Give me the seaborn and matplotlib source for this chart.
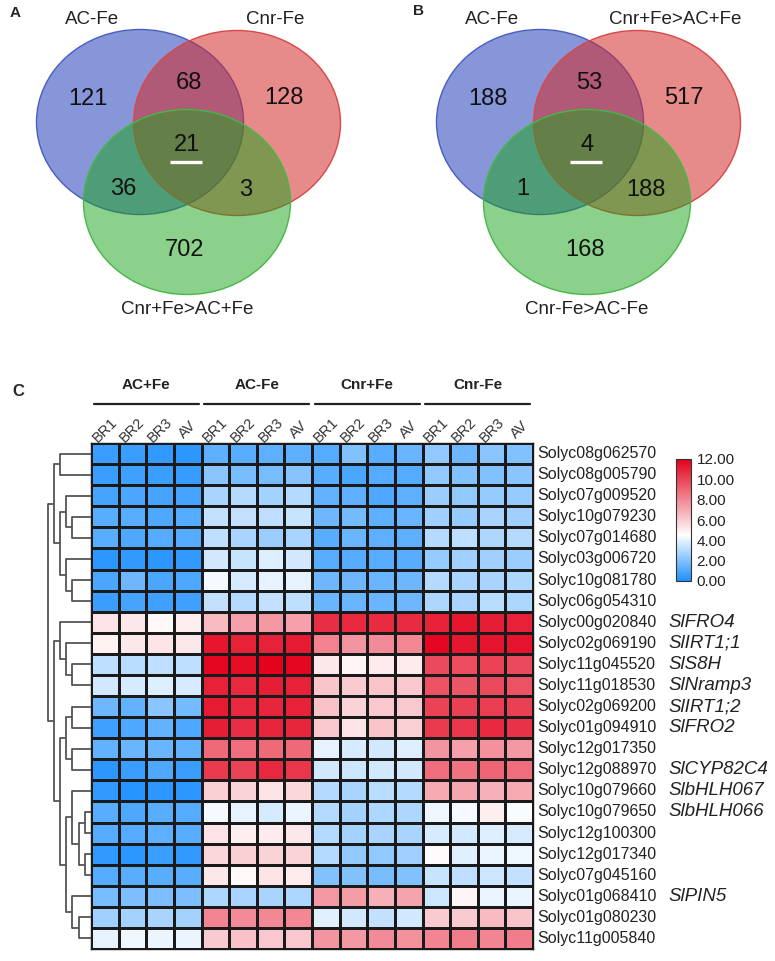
"""
Venn diagrams of Fe-responsive genes (A, B) and expression heatmap (C).
"""

import matplotlib
matplotlib.use("Agg")
import matplotlib.pyplot as plt
from matplotlib.patches import Ellipse
from matplotlib.colors import LinearSegmentedColormap
import numpy as np
import pandas as pd
import seaborn as sns

# ---------------------------------------------------------------- data
# region order: only1, only2, only3, 1&2, 1&3, 2&3, 1&2&3
venn_a_sets = ["AC-Fe", "Cnr-Fe", "Cnr+Fe>AC+Fe"]
venn_a_counts = [121, 128, 702, 68, 36, 3, 21]
venn_b_sets = ["AC-Fe", "Cnr+Fe>AC+Fe", "Cnr-Fe>AC-Fe"]
venn_b_counts = [188, 517, 168, 53, 1, 188, 4]

groups = ["AC+Fe", "AC-Fe", "Cnr+Fe", "Cnr-Fe"]
replicates = ["BR1", "BR2", "BR3", "AV"]

genes = [
    "Solyc08g062570", "Solyc08g005790", "Solyc07g009520", "Solyc10g079230",
    "Solyc07g014680", "Solyc03g006720", "Solyc10g081780", "Solyc06g054310",
    "Solyc00g020840", "Solyc02g069190", "Solyc11g045520", "Solyc11g018530",
    "Solyc02g069200", "Solyc01g094910", "Solyc12g017350", "Solyc12g088970",
    "Solyc10g079660", "Solyc10g079650", "Solyc12g100300", "Solyc12g017340",
    "Solyc07g045160", "Solyc01g068410", "Solyc01g080230", "Solyc11g005840",
]
gene_names = [
    "", "", "", "", "", "", "", "",
    "SlFRO4", "SlIRT1;1", "SlS8H", "SlNramp3",
    "SlIRT1;2", "SlFRO2", "", "SlCYP82C4",
    "SlbHLH067", "SlbHLH066", "", "",
    "", "SlPIN5", "", "",
]

# columns: AC+Fe (BR1 BR2 BR3 AV), AC-Fe (...), Cnr+Fe (...), Cnr-Fe (...)
expression = [
    [0.6, 0.6, 0.4, 0.3, 1.3, 1.2, 1.3, 1.3, 1.1, 2.0, 1.2, 1.5, 2.3, 1.6, 2.2, 2.0],
    [0.6, 0.7, 0.6, 0.5, 2.2, 1.8, 1.8, 2.1, 1.2, 0.9, 1.1, 1.1, 2.3, 2.0, 2.0, 2.2],
    [0.8, 0.9, 0.8, 0.8, 2.8, 3.0, 2.7, 3.0, 1.4, 1.3, 1.0, 1.3, 2.5, 2.3, 2.4, 2.4],
    [1.2, 1.2, 1.0, 1.1, 3.3, 3.3, 3.2, 3.4, 1.6, 1.7, 1.3, 1.5, 2.6, 2.4, 2.8, 2.6],
    [1.2, 1.0, 1.1, 1.1, 3.2, 2.8, 2.5, 2.8, 1.2, 1.5, 1.3, 1.3, 3.0, 3.2, 2.9, 3.0],
    [0.3, 0.4, 0.3, 0.4, 3.6, 3.4, 3.8, 3.6, 1.2, 1.1, 1.2, 1.2, 2.4, 2.6, 2.6, 2.5],
    [0.9, 1.6, 0.9, 1.0, 4.3, 3.7, 4.0, 4.0, 1.6, 1.6, 1.5, 1.6, 3.0, 2.8, 2.8, 2.9],
    [0.6, 0.8, 0.7, 0.7, 3.3, 3.0, 3.3, 3.2, 1.5, 1.5, 1.5, 1.6, 2.9, 2.8, 3.1, 2.9],
    [5.3, 5.2, 4.7, 5.0, 6.5, 7.3, 7.5, 7.3, 10.6, 10.8, 10.7, 10.7, 11.0, 11.3, 11.1, 11.0],
    [4.9, 5.2, 5.3, 5.2, 11.3, 11.0, 11.0, 11.2, 8.2, 7.6, 7.9, 8.0, 11.8, 11.3, 11.4, 11.4],
    [3.2, 3.1, 3.2, 3.2, 11.8, 11.6, 11.9, 11.8, 5.2, 4.8, 5.1, 5.1, 9.8, 9.7, 10.0, 9.8],
    [3.6, 3.7, 3.8, 3.7, 11.0, 10.8, 11.1, 11.0, 6.2, 6.0, 6.2, 6.1, 9.6, 9.5, 9.8, 9.6],
    [1.6, 1.4, 2.2, 1.7, 11.2, 10.8, 10.9, 11.0, 6.3, 5.8, 6.1, 6.1, 10.0, 10.1, 10.2, 10.1],
    [0.7, 1.0, 1.4, 1.0, 11.1, 10.6, 10.9, 10.9, 6.1, 5.3, 6.2, 5.9, 10.3, 10.4, 10.8, 10.5],
    [1.4, 1.5, 1.5, 1.4, 8.9, 8.8, 8.9, 8.9, 4.0, 3.7, 3.6, 3.8, 7.6, 7.3, 7.7, 7.5],
    [0.3, 0.6, 1.0, 0.6, 10.3, 10.0, 10.8, 10.4, 3.6, 3.5, 3.6, 3.6, 8.8, 8.6, 9.0, 8.8],
    [0.4, 0.2, 0.3, 0.3, 5.9, 5.8, 5.3, 5.7, 3.0, 2.8, 3.1, 3.0, 7.0, 7.1, 6.8, 7.0],
    [1.2, 1.0, 1.2, 1.1, 4.3, 4.0, 3.7, 4.1, 3.0, 2.7, 2.9, 2.9, 4.2, 4.3, 5.0, 4.4],
    [1.1, 1.1, 1.3, 1.2, 5.3, 5.0, 5.1, 5.2, 3.0, 2.7, 2.8, 2.8, 3.7, 3.6, 3.8, 3.7],
    [0.4, 0.3, 0.6, 0.4, 5.7, 5.9, 5.8, 5.8, 3.0, 2.3, 2.3, 2.6, 4.6, 3.9, 4.1, 4.2],
    [1.1, 1.2, 1.2, 1.2, 5.2, 4.7, 5.3, 5.1, 2.0, 2.0, 1.8, 2.0, 3.4, 3.2, 3.5, 3.3],
    [1.8, 1.9, 1.9, 1.9, 2.9, 2.8, 2.8, 2.9, 7.5, 7.4, 6.8, 7.2, 3.5, 4.8, 4.1, 4.1],
    [2.6, 2.7, 2.8, 2.7, 8.1, 7.9, 8.0, 8.0, 3.9, 3.6, 3.3, 3.6, 6.0, 6.0, 6.5, 6.2],
    [4.0, 4.2, 4.1, 4.1, 6.0, 6.3, 6.1, 6.1, 7.6, 7.5, 7.9, 7.7, 8.1, 8.3, 8.1, 8.3],
]

# row dendrogram: (left, right, level); ids >= 24 refer to earlier merges
merges = [
    (3, 4, 3), (2, 24, 4), (6, 7, 3), (5, 26, 4), (25, 27, 5), (0, 1, 5),
    (29, 28, 6), (10, 11, 3), (9, 31, 4), (8, 32, 5), (12, 13, 3), (14, 15, 3),
    (34, 35, 4), (17, 18, 1), (19, 20, 1), (37, 38, 2), (16, 39, 3), (22, 23, 2),
    (21, 41, 3), (40, 42, 4), (36, 43, 5), (33, 44, 6), (30, 45, 7),
]

# ---------------------------------------------------------------- style
sns.set_theme(style="white")
plt.rcParams["font.family"] = ["Liberation Sans", "DejaVu Sans"]

W, H = 775, 961
fig = plt.figure(figsize=(W / 100, H / 100), dpi=100)


def px_axes(x0, y0, w, h):
    """Axes placed with pixel coordinates (top-left origin)."""
    return fig.add_axes([x0 / W, 1 - (y0 + h) / H, w / W, h / H])


def draw_venn(ax, set_names, counts):
    """Three-set Venn with fixed layout in pixel units."""
    ax.set_xlim(0, 375)
    ax.set_ylim(330, 0)
    ax.axis("off")

    circles = [
        ((140, 122), "#2540b8", 0.55, "#4a5cc0"),
        ((237, 123), "#d42a2a", 0.55, "#d84848"),
        ((187, 202), "#19a519", 0.50, "#45b845"),
    ]
    for (cx, cy), face, alpha, edge in circles:
        ax.add_patch(Ellipse((cx, cy), 207, 185, facecolor=face, alpha=alpha,
                             edgecolor="none"))
        ax.add_patch(Ellipse((cx, cy), 207, 185, facecolor="none",
                             edgecolor=edge, lw=1.0))

    label_pos = [(92, 19), (275, 19), (187, 310)]
    for (x, y), name in zip(label_pos, set_names):
        ax.text(x, y, name, ha="center", va="center", fontsize=13.5, color="#222")

    count_pos = [(88, 99), (284, 98), (185, 250), (189, 83), (123, 189),
                 (246, 190), (187, 145)]
    for (x, y), n in zip(count_pos, counts):
        ax.text(x, y, str(n), ha="center", va="center", fontsize=17, color="#111")

    # white bar under the shared count
    ax.plot([170, 202], [162, 162], color="white", lw=2.4, solid_capstyle="butt")


ax_a = px_axes(0, 0, 375, 330)
draw_venn(ax_a, venn_a_sets, venn_a_counts)
ax_b = px_axes(400, 0, 375, 330)
draw_venn(ax_b, venn_b_sets, venn_b_counts)

fig.text(10 / W, 1 - 13 / H, "A", fontsize=11, fontweight="bold", va="center")
fig.text(413 / W, 1 - 11 / H, "B", fontsize=11, fontweight="bold", va="center")
fig.text(12 / W, 1 - 391 / H, "C", fontsize=12, fontweight="bold", va="center")

# ---------------------------------------------------------------- heatmap
columns = [f"{g} {r}" for g in groups for r in replicates]
hm_df = pd.DataFrame(expression, index=genes, columns=columns)

cmap = LinearSegmentedColormap.from_list(
    "fe_expr", [(0.0, "#1e90ff"), (4.5 / 12, "#ffffff"), (1.0, "#e3001a")]
)

hm_left, hm_top, hm_w, hm_h = 91, 443, 442, 506
ax = px_axes(hm_left, hm_top, hm_w, hm_h)
cax = px_axes(676, 459, 15, 122)

sns.heatmap(
    hm_df,
    ax=ax,
    cmap=cmap,
    vmin=0,
    vmax=12,
    linewidths=0.8,
    linecolor="#1a1a1a",
    xticklabels=False,
    yticklabels=False,
    cbar_ax=cax,
    cbar_kws={"ticks": np.arange(0, 13, 2), "format": "%.2f"},
)
ax.set_xlabel("")
ax.set_ylabel("")
for side in ["top", "bottom", "left", "right"]:
    ax.spines[side].set_visible(True)
    ax.spines[side].set_color("#1a1a1a")
    ax.spines[side].set_linewidth(1.0)

cbar = ax.collections[0].colorbar
cax.tick_params(length=0, labelsize=11, labelcolor="#222", pad=4)
cbar.outline.set_edgecolor("#333")
cbar.outline.set_linewidth(0.8)

# column headers
for g, grp in enumerate(groups):
    ax.plot([4 * g + 0.1, 4 * g + 3.9], [-1.85, -1.85], color="#222", lw=1.6,
            clip_on=False)
    ax.text(4 * g + 2, -2.75, grp, ha="center", va="center", fontsize=11,
            fontweight="bold", color="#222")
for j, col in enumerate(columns):
    ax.text(j + 0.5, -0.62, col.split()[-1], ha="center", va="center",
            rotation=45, fontsize=10.5, color="#333")

# gene labels
for i, (gene, name) in enumerate(zip(genes, gene_names)):
    ax.text(16.15, i + 0.5, gene, ha="left", va="center", fontsize=11.5,
            color="#222", clip_on=False)
    if name:
        ax.text(20.9, i + 0.5, name, ha="left", va="center", fontsize=13.5,
                style="italic", color="#222", clip_on=False)

# ---------------------------------------------------------------- dendrogram
ax_d = px_axes(44, hm_top, hm_left - 44, hm_h)
ax_d.set_xlim(7.6, 0)
ax_d.set_ylim(len(genes), 0)
ax_d.axis("off")

node_y = {i: i + 0.5 for i in range(len(genes))}
node_h = {i: 0.0 for i in range(len(genes))}
for k, (left, right, level) in enumerate(merges):
    nid = len(genes) + k
    for child in (left, right):
        ax_d.plot([node_h[child], level], [node_y[child], node_y[child]],
                  color="#555", lw=1.3, solid_capstyle="butt")
    ax_d.plot([level, level], [node_y[left], node_y[right]], color="#555", lw=1.3)
    node_y[nid] = (node_y[left] + node_y[right]) / 2
    node_h[nid] = level

fig.savefig("out.png", dpi=100)
